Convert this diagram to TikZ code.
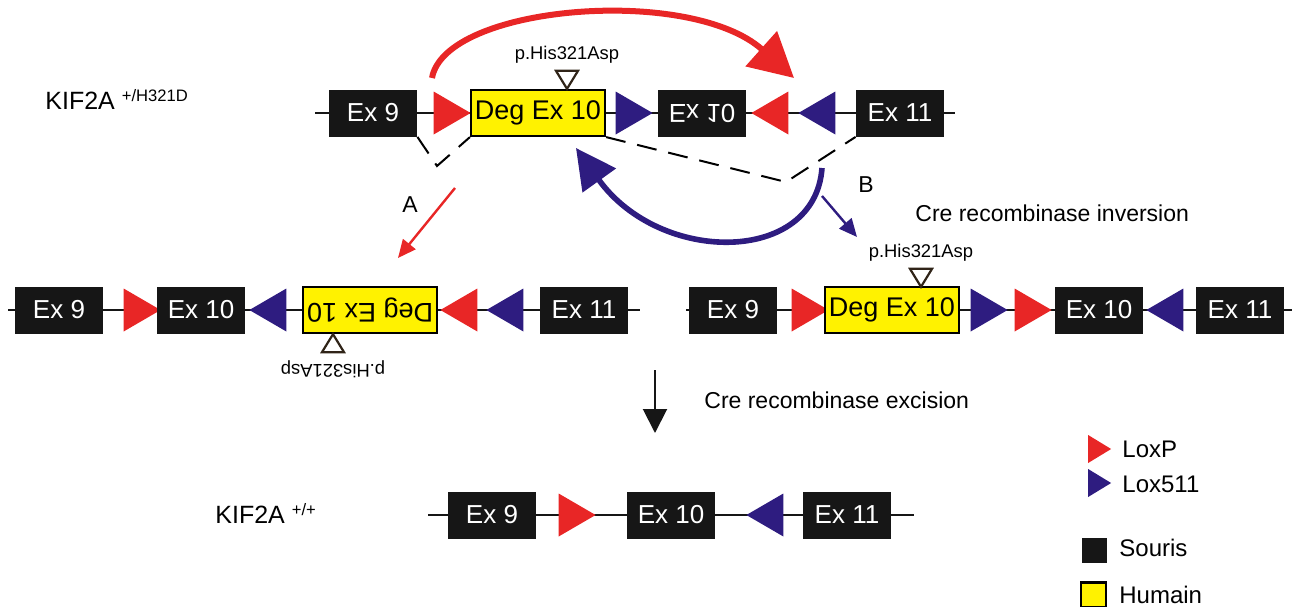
\documentclass[tikz,border=0pt]{standalone}
\usepackage{fontspec}
\setmainfont{Liberation Sans}
\usetikzlibrary{shapes.geometric,arrows.meta,positioning}

\definecolor{loxred}{RGB}{232,38,38}
\definecolor{loxblue}{RGB}{46,28,128}
\definecolor{exonblack}{RGB}{22,22,22}
\definecolor{mutbrown}{RGB}{48,36,24}

\tikzset{
  exon/.style={fill=exonblack, text=white, minimum width=44pt, minimum height=23.5pt,
    inner sep=0pt, font=\fontsize{13}{13}\selectfont},
  human/.style={fill=yellow, draw=black, line width=1.1pt, minimum width=67pt,
    minimum height=23pt, inner sep=0pt, font=\fontsize{13.5}{13.5}\selectfont},
  lox/.style={isosceles triangle, isosceles triangle stretches, inner sep=0pt,
    minimum width=21.5pt, minimum height=18.5pt},
  loxp/.style={lox, fill=loxred},
  loxb/.style={lox, fill=loxblue},
  pointleft/.style={shape border rotate=180},
  mut/.style={isosceles triangle, isosceles triangle stretches, inner sep=0pt,
    draw=mutbrown, fill=white, line width=1.1pt, minimum width=11pt, minimum height=9pt},
  mutlabel/.style={inner sep=0pt, font=\fontsize{9.2}{9.2}\selectfont},
  dna/.style={draw=exonblack, line width=1pt},
  cut/.style={dash pattern=on 10pt off 6pt, line width=1pt},
  note/.style={inner sep=0pt, font=\fontsize{11.5}{11.5}\selectfont},
  allele/.style={inner sep=0pt, anchor=base west, font=\fontsize{12.5}{12.5}\selectfont},
}

\begin{document}
\begin{tikzpicture}[x=0.5pt,y=-0.5pt]
\useasboundingbox (0,0) rectangle (1292,606);

% Allele KIF2A +/H321D
\node[allele] (kifa) at (45,109) {KIF2A\hspace{3.5pt}{\fontsize{8.3}{8.3}\selectfont\raisebox{3.6pt}{+/H321D}}};
\coordinate (la0) at (315,113);
\coordinate (la1) at (955,113);
\draw[dna] (la0) -- (la1);
\node[exon] (e9a) at (373,113) {Ex 9};
\node[loxp] (pa1) at (446,113) {};
\node[human] (dga) at (538,113) {Deg Ex 10};
\node[loxb] (ba1) at (628,113) {};
\node[exon] (e10a) at (702,113) {\scalebox{1}[-1]{Ex 10}};
\node[loxp, pointleft] (pa2) at (776,113) {};
\node[loxb, pointleft] (ba2) at (823,113) {};
\node[exon] (e11a) at (900,113) {Ex 11};
\node[mut, shape border rotate=270] (ma) at (567,77) {};
\node[mutlabel, above=3pt of ma] (mla) {p.His321Asp};

% Dashed recombination lines
\coordinate (va) at (437,166);
\draw[cut] (e9a.south east) -- (va) -- (dga.south west);
\coordinate (vb) at (786,182);
\draw[cut] (dga.south east) -- (vb) -- (e11a.south west);

% Inversion arcs
\coordinate (ra0) at (432,78);
\coordinate (ra1) at (794,78);
\draw[loxred, line width=3pt, -{Triangle[length=22pt, width=23pt]}]
  (ra0) .. controls (445,5) and (690,-15) .. (ra1);
\coordinate (ba0) at (822,168);
\coordinate (bb1) at (576,148);
\draw[loxblue, line width=2.8pt, -{Triangle[length=20pt, width=20pt]}]
  (ba0) .. controls (815,265) and (660,265) .. (bb1);

% Branches A and B
\coordinate (aa0) at (455,188);
\coordinate (aa1) at (398,258);
\draw[loxred, line width=1.2pt, -{Triangle[length=9pt, width=8pt]}] (aa0) -- (aa1);
\node[note] (la) at (410,205) {A};
\coordinate (bs0) at (822,196);
\coordinate (bs1) at (857,237);
\draw[loxblue, line width=1.2pt, -{Triangle[length=9pt, width=8pt]}] (bs0) -- (bs1);
\node[note] (lb) at (866,185) {B};
\node[note, anchor=west] (inv) at (915,213) {Cre recombinase inversion};

% Branch A product
\coordinate (lb0) at (8,310);
\coordinate (lb1) at (640,310);
\draw[dna] (lb0) -- (lb1);
\node[exon] (e9b) at (59,310) {Ex 9};
\node[loxp] (pb1) at (136,310) {};
\node[exon] (e10b) at (201,310) {Ex 10};
\node[loxb, pointleft] (bb1n) at (274,310) {};
\node[human, rotate=180] (dgb) at (370,310) {Deg Ex 10};
\node[loxp, pointleft] (pb2) at (465,310) {};
\node[loxb, pointleft] (bb2) at (511,310) {};
\node[exon] (e11b) at (584,310) {Ex 11};
\node[mut, shape border rotate=90] (mb) at (333,346) {};
\node[mutlabel, rotate=180] (mlb) at (333,369) {p.His321Asp};

% Branch B product
\coordinate (lc0) at (686,310);
\coordinate (lc1) at (1292,310);
\draw[dna] (lc0) -- (lc1);
\node[exon] (e9c) at (733,310) {Ex 9};
\node[loxp] (pc1) at (804,310) {};
\node[human] (dgc) at (892,310) {Deg Ex 10};
\node[loxb] (bc1) at (983,310) {};
\node[loxp] (pc2) at (1027,310) {};
\node[exon] (e10c) at (1099,310) {Ex 10};
\node[loxb, pointleft] (bc2) at (1171,310) {};
\node[exon] (e11c) at (1240,310) {Ex 11};
\node[mut, shape border rotate=270] (mc) at (921,275) {};
\node[mutlabel, above=3pt of mc] (mlc) {p.His321Asp};

% Excision
\coordinate (xa0) at (655,370);
\coordinate (xa1) at (655,433);
\draw[exonblack, line width=1pt, -{Triangle[length=12pt, width=12pt]}] (xa0) -- (xa1);
\node[note, anchor=west] (exc) at (704,400) {Cre recombinase excision};

% Allele KIF2A +/+
\node[allele] (kifd) at (215,523) {KIF2A\hspace{3.5pt}{\fontsize{8.3}{8.3}\selectfont\raisebox{3.6pt}{+/+}}};
\coordinate (ld0) at (428,515);
\coordinate (ld1) at (914,515);
\draw[dna] (ld0) -- (ld1);
\node[exon] (e9d) at (492,515) {Ex 9};
\node[loxp] (pd1) at (571,515) {};
\node[exon] (e10d) at (671,515) {Ex 10};
\node[loxb, pointleft] (bd1) at (771,515) {};
\node[exon] (e11d) at (847,515) {Ex 11};

% Legend
\node[loxp, minimum width=14pt, minimum height=11.5pt] (kp) at (1096,449) {};
\node[note, anchor=west, font=\fontsize{12}{12}\selectfont] (kpt) at (1122,449) {LoxP};
\node[loxb, minimum width=14pt, minimum height=11.5pt] (kb) at (1096,483) {};
\node[note, anchor=west, font=\fontsize{12}{12}\selectfont] (kbt) at (1122,484) {Lox511};
\node[fill=exonblack, minimum size=12.5pt, inner sep=0pt] (ks) at (1094.5,550) {};
\node[note, anchor=west, font=\fontsize{12}{12}\selectfont] (kst) at (1119,548) {Souris};
\node[fill=yellow, draw=black, line width=1.1pt, minimum size=12.5pt, inner sep=0pt] (kh) at (1093.5,595) {};
\node[note, anchor=west, font=\fontsize{12}{12}\selectfont] (kht) at (1119,595) {Humain};
\end{tikzpicture}
\end{document}
